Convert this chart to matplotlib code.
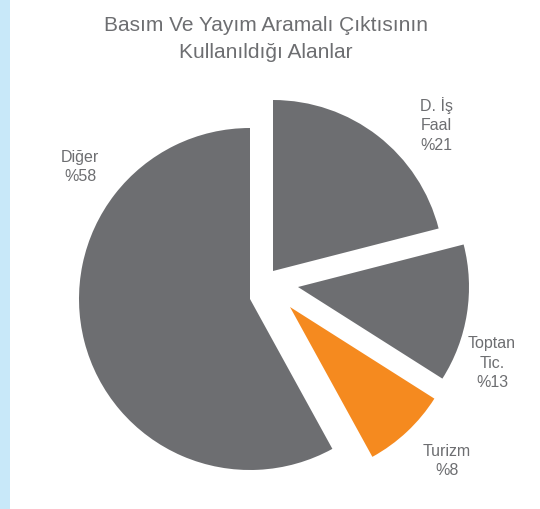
import matplotlib
matplotlib.use("Agg")
import matplotlib.pyplot as plt
from matplotlib.patches import Rectangle

# ---- data ----
labels = ["D. İş\nFaal", "Toptan\nTic.", "Turizm", "Diğer"]
shares = [21, 13, 8, 58]
title = "Basım Ve Yayım Aramalı Çıktısının\nKullanıldığı Alanlar"

# ---- style / layout (pixels, y up) ----
GRAY = "#6d6e71"
ORANGE = "#f58a1f"
TEXT = "#6d6e71"
colors = [GRAY, GRAY, ORANGE, GRAY]
CX, CY, R = 250, 210, 171
offsets = [(23, 28), (48, 12), (40, -8), (0, 0)]          # per-slice pull-out
label_pos = [(436, 385), (492, 147), (447, 49), (80, 343)]

plt.rcParams["font.family"] = ["Liberation Sans", "DejaVu Sans"]

fig = plt.figure(figsize=(5.4, 5.1), dpi=100)
ax = fig.add_axes([0, 0, 1, 1])

# light blue strip on the left
ax.add_patch(Rectangle((0, 0), 10, 510, color="#c8e8f9", lw=0))

wedges, _ = ax.pie(shares, colors=colors, startangle=90, counterclock=False,
                   center=(CX, CY), radius=R, frame=True,
                   wedgeprops=dict(linewidth=0))
for w, (dx, dy) in zip(wedges, offsets):
    w.set_center((CX + dx, CY + dy))

ax.set_xlim(0, 540)
ax.set_ylim(0, 510)
ax.set_aspect("equal")
ax.axis("off")

for lab, v, (x, y) in zip(labels, shares, label_pos):
    ax.text(x, y, f"{lab}\n%{v}", ha="center", va="center", ma="center",
            fontsize=11.5, color=TEXT, linespacing=1.35)

ax.text(266, 471, title, ha="center", va="center", ma="center",
        fontsize=15, color=TEXT, linespacing=1.55)

fig.savefig("out.png", dpi=100)
